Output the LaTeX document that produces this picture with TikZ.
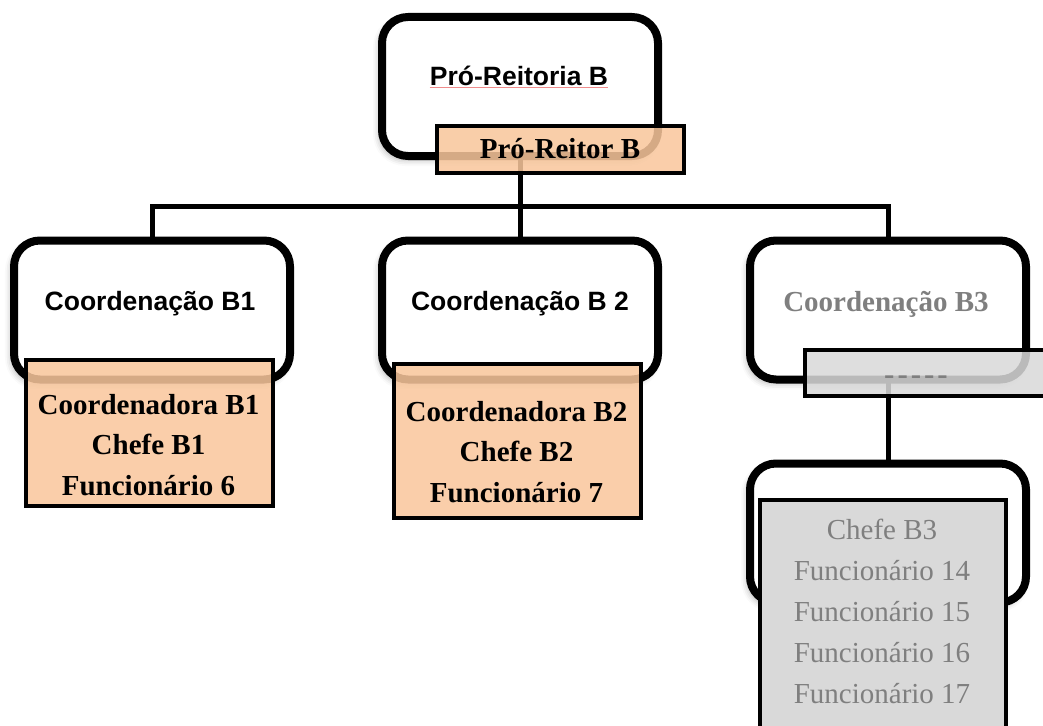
\documentclass[tikz,border=0pt]{standalone}
\usepackage{fontspec}
\setmainfont{Liberation Serif}
\newfontfamily\headfont{Liberation Sans}
\usetikzlibrary{shadows.blur}
\definecolor{peach}{HTML}{F9C69C}
\definecolor{paleGray}{HTML}{D9D9D9}
\definecolor{dimText}{HTML}{7F7F7F}
\definecolor{squiggle}{HTML}{F08C8C}

\begin{document}
\begin{tikzpicture}[x=1pt,y=-1pt,
  unitbox/.style={draw=black, line width=8pt, rounded corners=26pt, fill=white,
    minimum width=276pt, minimum height=139pt, inner sep=0pt, outer sep=0pt,
    blur shadow={shadow xshift=-3pt, shadow yshift=-4pt, shadow blur radius=6pt, shadow opacity=30}},
  staffbox/.style={draw=black, line width=4pt, minimum width=247pt, inner sep=0pt, outer sep=0pt},
  link/.style={line width=5pt},
  headtext/.style={anchor=base, inner sep=0pt, font=\headfont\bfseries\fontsize{26.5}{30}\selectfont},
  % multi-line names: the base anchor sits on the last line
  stafftext/.style={anchor=base, inner sep=0pt, font=\bfseries\fontsize{29}{40.5}\selectfont, align=center},
  dimtext/.style={anchor=base, inner sep=0pt, text=dimText, font=\fontsize{29}{40.8}\selectfont, align=center},
]
\useasboundingbox (0,0) rectangle (1043,725);

% organisational units
\node[unitbox] (top) at (520,86.5) {};
\node[unitbox] (c1) at (152,310) {};
\node[unitbox] (c2) at (520,310) {};
\node[unitbox] (c3) at (888,310) {};
\node[unitbox] (c3sub) at (888,533) {};

% hierarchy lines
\coordinate (hub) at (520,206);
\draw[link] (top.south) -- (hub);
\draw[link] (c1.north) |- (hub) -| (c3.north);
\draw[link] (hub) -- (c2.north);
\draw[link] (c3.south) -- (c3sub.north);

% staff boxes
\node[staffbox, fill=peach, fill opacity=0.86, minimum height=47pt] (reitor) at (560.5,149.5) {};
\node[staffbox, fill=peach, fill opacity=0.86, minimum height=146pt] (c1staff) at (149.5,433) {};
\node[staffbox, fill=peach, fill opacity=0.86, minimum height=154pt] (c2staff) at (517.5,441) {};
\node[staffbox, fill=paleGray, fill opacity=0.86, minimum height=46pt] (c3staff) at (928.5,373) {};
\node[staffbox, fill=paleGray, minimum width=246pt, minimum height=240pt] (c3substaff) at (883,620) {};

% unit titles
\node[headtext] (toptext) at (519,85) {Pró-Reitoria B};
\draw[squiggle, line width=0.6pt] ([yshift=-2.5pt]toptext.base west) -- ([yshift=-2.5pt]toptext.base east);
\node[headtext] (c1text) at (150,310) {Coordenação B1};
\node[headtext] (c2text) at (520,310) {Coordenação B 2};
\node[anchor=base, inner sep=0pt, text=dimText, font=\bfseries\fontsize{29}{35}\selectfont] (c3text) at (886,311) {Coordenação B3};

% staff names
\node[stafftext] (reitortext) at (560,158) {Pró-Reitor B};
\node[stafftext] (c1names) at (148.5,495) {Coordenadora B1\\Chefe B1\\Funcionário 6};
\node[stafftext] (c2names) at (516.5,502) {Coordenadora B2\\Chefe B2\\Funcionário 7};
\node[anchor=base, inner sep=0pt, text=dimText, font=\bfseries\fontsize{31}{35}\selectfont] (c3names) at (916,384) {-\kern3pt-\kern3pt-\kern3pt-\kern3pt-};
\node[dimtext] (c3subnames) at (882,703) {Chefe B3\\Funcionário 14\\Funcionário 15\\Funcionário 16\\Funcionário 17};
\end{tikzpicture}
\end{document}
